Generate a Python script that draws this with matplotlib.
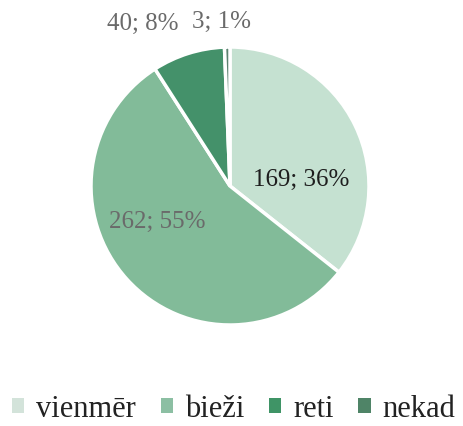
import matplotlib
matplotlib.use("Agg")
import matplotlib.pyplot as plt
from matplotlib.patches import Patch

categories = ["vienmēr", "bieži", "reti", "nekad"]
values = [169, 262, 40, 3]
percents = ["36%", "55%", "8%", "1%"]
colors = ["#c5e1d1", "#82bb99", "#44916a", "#5b8270"]
legend_colors = ["#d3e3da", "#8cbfa3", "#3f9466", "#4f8467"]
label_colors = ["#1e1e1e", "#6a6a6a", "#6a6a6a", "#6a6a6a"]
label_pos = [(0.51, 0.05), (-0.52, -0.25), (-0.63, 1.17), (-0.06, 1.19)]

FAM = "Liberation Serif"
plt.rcParams["font.family"] = FAM

cx, cy, r = 230, 187, 139
W, H = 463, 427
fig = plt.figure(figsize=(W / 100, H / 100), dpi=100)
ax = fig.add_axes([(cx - r) / W, (H - cy - r) / H, 2 * r / W, 2 * r / H])
ax.pie(values, colors=colors, startangle=90, counterclock=False,
       wedgeprops=dict(edgecolor="white", linewidth=2.5), radius=1.0)
ax.set_xlim(-1, 1)
ax.set_ylim(-1, 1)
ax.set_aspect("equal")
ax.axis("off")

for v, p, (x, y), c in zip(values, percents, label_pos, label_colors):
    ax.text(x, y, f"{v}; {p}", ha="center", va="center", fontsize=18,
            family=FAM, color=c, clip_on=False)

handles = [Patch(facecolor=c, edgecolor="none") for c in legend_colors]
fig.legend(handles, categories, loc="center", bbox_to_anchor=(0.505, 0.04),
           ncol=4, frameon=False, prop={"family": FAM, "size": 22},
           handlelength=0.4, handleheight=0.4, handletextpad=0.4,
           columnspacing=0.8, labelcolor="#222222")

fig.savefig("out.png", dpi=100)
